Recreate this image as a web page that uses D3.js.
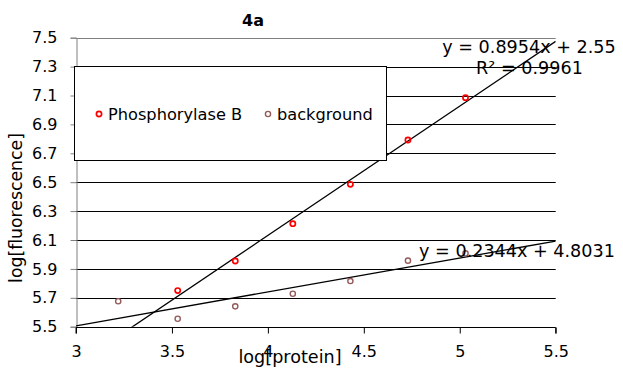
<!DOCTYPE html>
<html><head><meta charset="utf-8">
<script src="https://cdn.jsdelivr.net/npm/d3@7"></script>
<style>
html,body{margin:0;padding:0;background:#fff;}
svg{display:block;font-family:"DejaVu Sans",Verdana,sans-serif;}
</style></head>
<body><svg id="c" width="623" height="369"></svg>
<script>
const xTicks = [3, 3.5, 4, 4.5, 5, 5.5];
const xTickLabels = ["3", "3.5", "4", "4.5", "5", "5.5"];
const yTicks = [5.5, 5.7, 5.9, 6.1, 6.3, 6.5, 6.7, 6.9, 7.1, 7.3, 7.5];
const yTickLabels = ["5.5", "5.7", "5.9", "6.1", "6.3", "6.5", "6.7", "6.9", "7.1", "7.3", "7.5"];
const phosX = [3.53, 3.83, 4.13, 4.43, 4.73, 5.03];
const phosY = [5.75, 5.955, 6.213, 6.485, 6.792, 7.085];
const bgX = [3.22, 3.53, 3.83, 4.13, 4.43, 4.73, 5.03];
const bgY = [5.676, 5.555, 5.641, 5.728, 5.816, 5.957, 6.008];
const seriesNames = ["Phosphorylase B", "background"];
const trendSlope = [0.8954, 0.2344];
const trendIntercept = [2.55, 4.8031];
const eqLabels = [["y = 0.8954x + 2.55", "R² = 0.9961"], ["y = 0.2344x + 4.8031"]];
const title = "4a";
const xTitle = "log[protein]";
const yTitle = "log[fluorescence]";

const colors = ["#ff0000", "#955a5a"];
const svg = d3.select("#c");
const L = 76, R = 555.7, T = 37.7, B = 326.7;
const x = d3.scaleLinear().domain([3, 5.5]).range([L, R]);
const y = d3.scaleLinear().domain([5.5, 7.5]).range([B, T]);

svg.append("defs").append("clipPath").attr("id", "pc")
  .append("rect").attr("x", L).attr("y", T).attr("width", R - L).attr("height", B - T);

// gridlines
svg.append("g").selectAll("line").data(yTicks.slice(1)).join("line")
  .attr("x1", L).attr("x2", R).attr("y1", d => Math.round(y(d)) + 0.5).attr("y2", d => Math.round(y(d)) + 0.5)
  .attr("stroke", (d, i) => i === yTicks.length - 2 ? "#808080" : "#000").attr("stroke-width", 1);

// y axis
const yAxis = d3.axisLeft(y).tickValues(yTicks).tickFormat((d, i) => yTickLabels[i]).tickSize(6).tickPadding(13);
const gy = svg.append("g").attr("transform", `translate(${Math.round(L) + 0.5},0)`).call(yAxis);
gy.select(".domain").attr("stroke", "#808080");
gy.selectAll(".tick line").attr("stroke", "#808080");
gy.selectAll("text").attr("font-size", 16).attr("fill", "#000").attr("font-family", "DejaVu Sans");

// x axis
const xAxis = d3.axisBottom(x).tickValues(xTicks).tickFormat((d, i) => xTickLabels[i]).tickSize(6).tickPadding(12);
const gx = svg.append("g").attr("transform", `translate(0,${Math.round(B) + 0.5})`).call(xAxis);
gx.select(".domain").attr("stroke", "#000").attr("d", `M${L},6V0H${R}V6`);
gx.selectAll(".tick line").attr("stroke", "#000");
gx.selectAll("text").attr("font-size", 16).attr("fill", "#000").attr("font-family", "DejaVu Sans");

// trendlines
const plot = svg.append("g").attr("clip-path", "url(#pc)");
trendSlope.forEach((m, i) => {
  const xs = [3, 5.5];
  plot.append("path").attr("fill", "none").attr("stroke", "#000").attr("stroke-width", 1.3)
    .attr("d", d3.line().x(d => x(d)).y(d => y(m * d + trendIntercept[i]))(xs));
});

// points
const series = [[phosX, phosY], [bgX, bgY]];
series.forEach(([xs, ys], i) => {
  svg.append("g").selectAll("circle").data(xs).join("circle")
    .attr("cx", d => x(d)).attr("cy", (d, j) => y(ys[j])).attr("r", 2.6)
    .attr("fill", "none").attr("stroke", colors[i]).attr("stroke-width", i === 0 ? 1.7 : 1.4);
});

// equation labels
const eqG = svg.append("g").attr("font-size", 17.6).attr("fill", "#000").attr("text-anchor", "middle");
eqG.append("text").attr("x", 529).attr("y", 46.7).attr("dy", "0.35em").text(eqLabels[0][0]);
eqG.append("text").attr("x", 529.5).attr("y", 67.7).attr("dy", "0.35em").text(eqLabels[0][1]);
eqG.append("text").attr("x", 517).attr("y", 251).attr("dy", "0.35em").text(eqLabels[1][0]);

// legend
const lg = svg.append("g");
lg.append("rect").attr("x", 74.5).attr("y", 66.5).attr("width", 312).attr("height", 94)
  .attr("fill", "#fff").attr("stroke", "#000").attr("stroke-width", 1);
const legX = [99, 268];
seriesNames.forEach((n, i) => {
  lg.append("circle").attr("cx", legX[i]).attr("cy", 114).attr("r", 2.6)
    .attr("fill", "none").attr("stroke", colors[i]).attr("stroke-width", i === 0 ? 1.7 : 1.4);
  lg.append("text").attr("x", legX[i] + 9).attr("y", 114).attr("dy", "0.35em")
    .attr("font-size", 16.2).text(n);
});

// titles
svg.append("text").attr("x", 253).attr("y", 20).attr("dy", "0.35em").attr("text-anchor", "middle")
  .attr("font-size", 16).attr("font-weight", "bold").text(title);
svg.append("text").attr("x", 290).attr("y", 357).attr("dy", "0.35em").attr("text-anchor", "middle")
  .attr("font-size", 17.6).text(xTitle);
svg.append("text").attr("transform", "translate(16,208) rotate(-90)").attr("dy", "0.35em")
  .attr("text-anchor", "middle").attr("font-size", 17.3).text(yTitle);
</script></body></html>
